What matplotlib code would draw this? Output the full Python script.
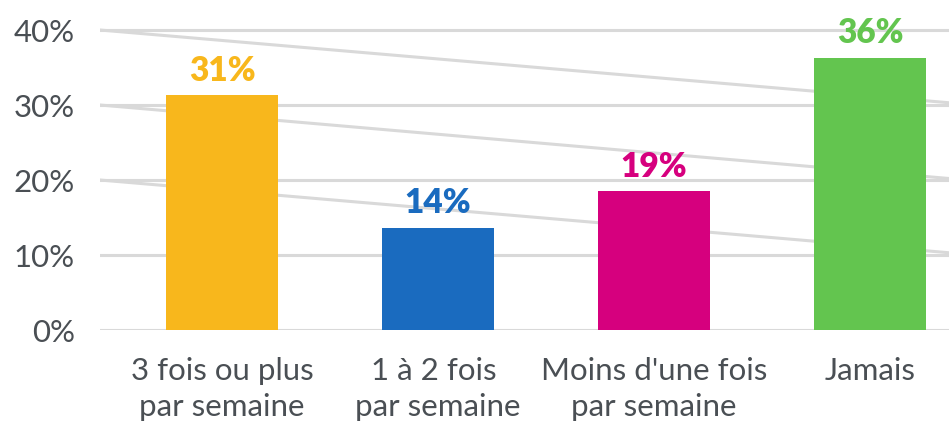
import matplotlib.pyplot as plt
import numpy as np

plt.rcParams['font.family'] = ['Lato', 'DejaVu Sans']

categories = ['3 fois ou plus\npar semaine', '1 à 2 fois \npar semaine',
              "Moins d'une fois\npar semaine", 'Jamais']
values = [31.3, 13.6, 18.5, 36.3]
labels = ['31%', '14%', '19%', '36%']
colors = ['#F8B71C', '#1A6BBF', '#D6007E', '#63C54F']
yticks = [0, 10, 20, 30, 40]
# odd slanted lines in the background (start value, end value)
diag_start = [40, 30, 20]
diag_end = [30.3, 20.2, 10.3]

grey = '#4a4f54'
grid = '#d9d9d9'

fig = plt.figure(figsize=(9.49, 4.27), dpi=100)
ax = fig.add_axes([100 / 949, 1 - 331 / 427, 849 / 949, 330 / 427])

x = np.arange(len(categories))
ax.bar(x, values, width=0.52, color=colors, zorder=3)

x0, x1 = -0.565, 3.366
ax.set_xlim(x0, x1)
ax.set_ylim(0, 44)

for v in yticks:
    ax.axhline(v, color=grid, lw=2.2, zorder=1)
for a, b in zip(diag_start, diag_end):
    ax.plot([x0, x1], [a, b], color=grid, lw=2.2, zorder=1)

for xi, v, lab, c in zip(x, values, labels, colors):
    ax.annotate(lab, (xi, v), xytext=(0, 7), textcoords='offset points',
                ha='center', va='bottom', fontsize=24, fontweight='heavy', color=c)

ax.set_yticks(yticks)
ax.set_yticklabels([f'{v}%' for v in yticks])
ax.set_xticks(x)
ax.set_xticklabels(categories, linespacing=1.32)
ax.tick_params(axis='y', length=0, pad=18, labelsize=22.5, labelcolor=grey)
ax.tick_params(axis='x', length=0, pad=19, labelsize=22.5, labelcolor=grey)

for s in ax.spines.values():
    s.set_visible(False)

fig.savefig('out.png', dpi=100)
